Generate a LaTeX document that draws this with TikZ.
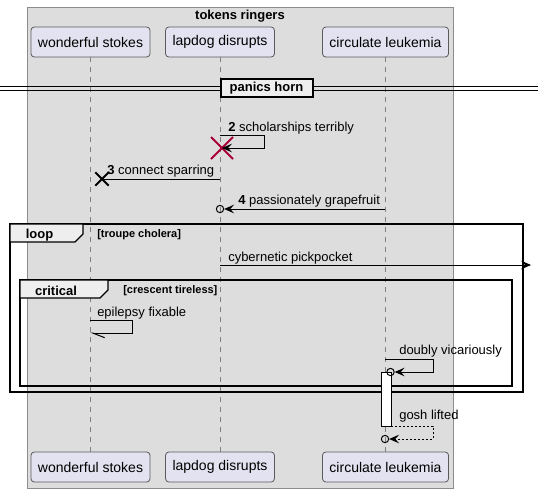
\documentclass[tikz,border=0pt]{standalone}
\usepackage{fontspec}
\setmainfont{Liberation Sans}
\usetikzlibrary{arrows.meta,shapes.misc}
\definecolor{boxgray}{RGB}{221,221,221}
\definecolor{boxline}{RGB}{140,140,140}
\definecolor{partfill}{RGB}{226,226,240}
\definecolor{partline}{RGB}{90,90,90}
\definecolor{tabfill}{RGB}{238,238,238}
\definecolor{destroyred}{RGB}{168,0,54}
\tikzstyle{line} = [draw, line width=0.75pt, -{Stealth[length=7.5pt,width=6.5pt,inset=3pt]}]

\begin{document}
\begin{tikzpicture}[x=0.75pt, y=-0.75pt,
    participant/.style={rectangle, draw=partline, line width=0.6pt, fill=partfill, rounded corners=2.5pt, inner xsep=5.25pt, minimum height=22.5pt, font=\fontsize{10.5}{12}\selectfont},
    lifeline/.style={draw=gray, line width=0.6pt, dash pattern=on 3.75pt off 3.75pt},
    msglabel/.style={anchor=base west, inner sep=0pt, font=\fontsize{9.75}{11}\selectfont},
    framebox/.style={draw=black, line width=1.2pt},
    tabbox/.style={draw=black, line width=1pt, fill=tabfill},
    framelabel/.style={anchor=base, inner sep=0pt, font=\fontsize{9.75}{11}\selectfont\bfseries},
    guardlabel/.style={anchor=base west, inner sep=0pt, font=\fontsize{8.25}{10}\selectfont\bfseries},
    endcircle/.style={circle, draw, line width=0.75pt, inner sep=0pt, minimum size=5.5pt}]
    \useasboundingbox (0,0) rectangle (538,493);

    % box round the participants
    \draw[draw=boxline, fill=boxgray, line width=0.6pt] (27,7) rectangle (453,488);
    \node[anchor=base, inner sep=0pt, font=\fontsize{9.75}{11}\selectfont\bfseries] (Title) at (240,19) {tokens ringers};

    \node[participant] (WonderfulTop) at (90.5,42) {wonderful stokes};
    \node[participant] (LapdogTop) at (220,42) {lapdog disrupts};
    \node[participant] (CirculateTop) at (385.5,42) {circulate leukemia};
    \node[participant] (WonderfulBottom) at (90.5,467) {wonderful stokes};
    \node[participant] (LapdogBottom) at (220,467) {lapdog disrupts};
    \node[participant] (CirculateBottom) at (385.5,467) {circulate leukemia};

    \path[lifeline] (WonderfulTop) -- (WonderfulBottom);
    \path[lifeline] (LapdogTop) -- (LapdogBottom);
    \path[lifeline] (CirculateTop) -- (CirculateBottom);

    % divider
    \coordinate (DivLeft) at (0,88.5);
    \coordinate (DivRight) at (538,88.5);
    \draw[line width=0.75pt] ([yshift=1.5pt]DivLeft) -- ([yshift=1.5pt]DivRight);
    \draw[line width=0.75pt] ([yshift=-1.5pt]DivLeft) -- ([yshift=-1.5pt]DivRight);
    \node[draw, line width=1.5pt, fill=tabfill, minimum width=69pt, minimum height=14pt, inner sep=0pt, font=\fontsize{9.75}{11}\selectfont\bfseries] (Panics) at (266.5,88) {panics horn};

    % 2: self message, destroyed
    \coordinate (Msg2Start) at (220,135);
    \node[cross out, draw=destroyred, line width=1.5pt, minimum size=15pt, inner sep=0pt] (Destroy) at (222,148) {};
    \path[line] (Msg2Start) -- (264,135) -- (264,148) -- (Destroy.center);
    \node[msglabel] (Label2) at (228,131) {\textbf{2} scholarships terribly};

    % 3: lost at wonderful
    \coordinate (Msg3Start) at (220,179);
    \node[cross out, draw=black, line width=1.5pt, minimum size=8.5pt, inner sep=0pt] (Lost3) at (102,179) {};
    \draw[line width=0.75pt] (Msg3Start) -- (Lost3.center);
    \node[msglabel] (Label3) at (107,174) {\textbf{3} connect sparring};

    % 4
    \coordinate (Msg4Start) at (385,209);
    \node[endcircle] (Circle4) at (220,209) {};
    \path[line] (Msg4Start) -- (Circle4.east);
    \node[msglabel] (Label4) at (238,204) {\textbf{4} passionately grapefruit};

    % loop
    \draw[framebox] (10,224) rectangle (523,392);
    \draw[tabbox] (10,224) -- (83,224) -- (83,234) -- (75,242) -- (10,242) -- cycle;
    \node[framelabel] (LoopLabel) at (39.5,238) {loop};
    \node[guardlabel] (LoopGuard) at (97,237) {[troupe cholera]};

    \coordinate (CybStart) at (220,265);
    \coordinate (CybEnd) at (531,265);
    \path[line] (CybStart) -- (CybEnd);
    \node[msglabel] (LabelCyb) at (228,261) {cybernetic pickpocket};

    % critical
    \draw[framebox] (20,280) rectangle (512,386);
    \draw[tabbox] (20,280) -- (108,280) -- (108,290) -- (100,298) -- (20,298) -- cycle;
    \node[framelabel] (CritLabel) at (56,295) {critical};
    \node[guardlabel] (CritGuard) at (123,293) {[crescent tireless]};

    \coordinate (EpiStart) at (90,320);
    \coordinate (EpiEnd) at (90,333);
    \draw[line width=0.75pt, -{Straight Barb[left, length=9pt, width=7pt]}] (EpiStart) -- (132,320) -- (132,333) -- (EpiEnd);
    \node[msglabel] (LabelEpi) at (97,316) {epilepsy fixable};

    % activation on circulate
    \node[draw, fill=white, line width=0.75pt, minimum width=7.5pt, minimum height=41pt, inner sep=0pt] (Active) at (386,399.5) {};

    \coordinate (DoubStart) at (385,359);
    \node[endcircle] (CircleDoub) at (390.5,372) {};
    \path[line] (DoubStart) -- (433,359) -- (433,372) -- (CircleDoub.east);
    \node[msglabel] (LabelDoub) at (399,354) {doubly vicariously};

    \coordinate (GoshStart) at (391,426);
    \node[endcircle] (CircleGosh) at (385,439) {};
    \path[line, dash pattern=on 1.5pt off 1.5pt] (GoshStart) -- (433,426) -- (433,439) -- (CircleGosh.east);
    \node[msglabel] (LabelGosh) at (399,419) {gosh lifted};
\end{tikzpicture}
\end{document}
